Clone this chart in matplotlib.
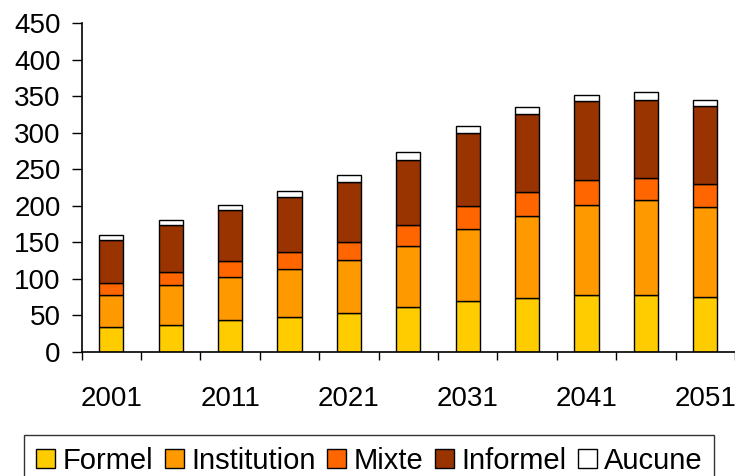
import matplotlib.pyplot as plt
import numpy as np

plt.rcParams['font.family'] = ['Liberation Sans', 'DejaVu Sans']

years = ['2001', '2006', '2011', '2016', '2021', '2026', '2031', '2036', '2041', '2046', '2051']
formel = [33.4, 36.5, 43.4, 47.0, 53.4, 61.2, 69.9, 73.1, 77.7, 77.7, 74.5]
institution = [44.3, 54.8, 59.3, 66.7, 72.2, 84.0, 98.1, 112.8, 122.8, 129.7, 123.3]
mixte = [16.4, 17.7, 21.5, 23.3, 24.2, 27.9, 31.6, 32.5, 35.1, 31.0, 32.3]
informel = [58.9, 64.0, 69.8, 75.3, 82.2, 89.9, 100.0, 106.8, 107.8, 106.4, 106.9]
aucune = [7.3, 7.9, 6.9, 8.2, 10.5, 10.1, 9.4, 10.4, 8.6, 10.5, 8.2]

series = [('Formel', formel, '#FFCC00'),
          ('Institution', institution, '#FF9900'),
          ('Mixte', mixte, '#FF6600'),
          ('Informel', informel, '#993300'),
          ('Aucune', aucune, '#FFFFFF')]

fig = plt.figure(figsize=(7.35, 4.76), dpi=100)
ax = fig.add_axes([0.111, 0.261, 0.889, 0.69])

x = np.arange(len(years))
bottom = np.zeros(len(years))
for name, vals, col in series:
    ax.bar(x, vals, 0.41, bottom=bottom, color=col, edgecolor='black',
           linewidth=1, label=name)
    bottom += np.array(vals)

ax.set_xlim(-0.5, len(years) - 0.5)
ax.set_ylim(0, 450)
ax.set_yticks(range(0, 451, 50))
ax.set_xticks(x[::2])
ax.set_xticklabels(years[::2])
ax.set_xticks(np.arange(-0.5, len(years), 1), minor=True)
ax.tick_params(axis='x', which='major', length=0, pad=25, labelsize=20)
ax.tick_params(axis='x', which='minor', length=6, width=1)
ax.tick_params(axis='y', length=7, width=1, labelsize=20, pad=8)
for s in ['top', 'right']:
    ax.spines[s].set_visible(False)
ax.spines['left'].set_linewidth(1.2)
ax.spines['bottom'].set_linewidth(1.2)

leg = fig.legend(loc='upper center', bbox_to_anchor=(0.5026, 1 - 435 / 476), ncol=5,
                 fontsize=21, frameon=True, fancybox=False, edgecolor='black',
                 handlelength=0.65, handleheight=0.65, handletextpad=0.25,
                 columnspacing=0.4, borderpad=0.4, borderaxespad=0)
leg.get_frame().set_linewidth(1)

plt.savefig('out.png', dpi=100)
